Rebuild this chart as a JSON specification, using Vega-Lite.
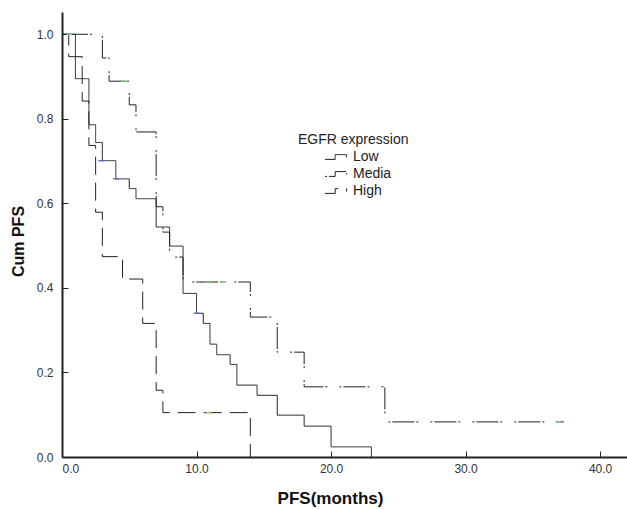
{
  "$schema": "https://vega.github.io/schema/vega-lite/v6.json",
  "width": 565,
  "height": 445,
  "autosize": {"type": "none"},
  "padding": {"left": 62, "top": 12, "right": 0, "bottom": 52},
  "background": "white",
  "config": {
    "view": {"stroke": null},
    "font": "Liberation Sans",
    "axis": {
      "grid": false,
      "domainColor": "#222",
      "domainWidth": 2,
      "tickColor": "#222",
      "tickWidth": 1,
      "tickSize": -6,
      "labelColor": "#333",
      "labelFontSize": 12,
      "labelFont": "Liberation Sans",
      "titleFont": "Liberation Sans",
      "titleColor": "#111",
      "titleFontWeight": "bold"
    }
  },
  "datasets": {
    "curves": [
      {"group": "Low", "time": 0, "survival": 1.0},
      {"group": "Low", "time": 1, "survival": 0.895},
      {"group": "Low", "time": 2, "survival": 0.786},
      {"group": "Low", "time": 2.5, "survival": 0.744},
      {"group": "Low", "time": 3, "survival": 0.701},
      {"group": "Low", "time": 4, "survival": 0.658},
      {"group": "Low", "time": 5, "survival": 0.635},
      {"group": "Low", "time": 5.5, "survival": 0.611},
      {"group": "Low", "time": 7, "survival": 0.544},
      {"group": "Low", "time": 8, "survival": 0.499},
      {"group": "Low", "time": 9, "survival": 0.387},
      {"group": "Low", "time": 10, "survival": 0.340},
      {"group": "Low", "time": 10.5, "survival": 0.316},
      {"group": "Low", "time": 11, "survival": 0.267},
      {"group": "Low", "time": 11.5, "survival": 0.242},
      {"group": "Low", "time": 12.5, "survival": 0.219},
      {"group": "Low", "time": 13, "survival": 0.170},
      {"group": "Low", "time": 14.5, "survival": 0.146},
      {"group": "Low", "time": 16, "survival": 0.099},
      {"group": "Low", "time": 18, "survival": 0.073},
      {"group": "Low", "time": 20, "survival": 0.024},
      {"group": "Low", "time": 23, "survival": 0.0},
      {"group": "Media", "time": 0, "survival": 1.0},
      {"group": "Media", "time": 3, "survival": 0.944},
      {"group": "Media", "time": 3.5, "survival": 0.889},
      {"group": "Media", "time": 5, "survival": 0.833},
      {"group": "Media", "time": 5.5, "survival": 0.769},
      {"group": "Media", "time": 7, "survival": 0.592},
      {"group": "Media", "time": 7.5, "survival": 0.532},
      {"group": "Media", "time": 8, "survival": 0.473},
      {"group": "Media", "time": 9, "survival": 0.414},
      {"group": "Media", "time": 14, "survival": 0.331},
      {"group": "Media", "time": 16, "survival": 0.248},
      {"group": "Media", "time": 18, "survival": 0.166},
      {"group": "Media", "time": 24, "survival": 0.083},
      {"group": "Media", "time": 37.3, "survival": 0.083},
      {"group": "High", "time": 0, "survival": 1.0},
      {"group": "High", "time": 0.5, "survival": 0.947},
      {"group": "High", "time": 1.5, "survival": 0.842},
      {"group": "High", "time": 2, "survival": 0.737},
      {"group": "High", "time": 2.5, "survival": 0.579},
      {"group": "High", "time": 3, "survival": 0.474},
      {"group": "High", "time": 4.5, "survival": 0.421},
      {"group": "High", "time": 6, "survival": 0.316},
      {"group": "High", "time": 7, "survival": 0.158},
      {"group": "High", "time": 7.5, "survival": 0.105},
      {"group": "High", "time": 14, "survival": 0.0}
    ],
    "censored": [
      {"arm": "Media", "time": 0.55, "survival": 1.0},
      {"arm": "Media", "time": 4.6, "survival": 0.889},
      {"arm": "Media", "time": 10.9, "survival": 0.414},
      {"arm": "Media", "time": 12.0, "survival": 0.414},
      {"arm": "Media", "time": 36.9, "survival": 0.083},
      {"arm": "Low", "time": 2.9, "survival": 0.701},
      {"arm": "Low", "time": 4.0, "survival": 0.658},
      {"arm": "Low", "time": 10.0, "survival": 0.340},
      {"arm": "High", "time": 10.9, "survival": 0.105}
    ]
  },
  "layer": [
    {
      "data": {"name": "curves"},
      "mark": {"type": "line", "interpolate": "step-after", "strokeWidth": 1, "color": "#222"},
      "encoding": {
        "x": {
          "field": "time",
          "type": "quantitative",
          "scale": {"domain": [0, 42], "nice": false, "zero": false},
          "axis": {
            "title": "PFS(months)",
            "titleFontSize": 17,
            "titleX": 268,
            "titlePadding": 16,
            "values": [0, 10, 20, 30, 40],
            "format": ".1f",
            "labelPadding": 12
          }
        },
        "y": {
          "field": "survival",
          "type": "quantitative",
          "scale": {"domain": [0, 1.0527], "nice": false, "zero": false},
          "axis": {
            "title": "Cum PFS",
            "titleFontSize": 16,
            "titleY": 229,
            "titlePadding": 10,
            "values": [0, 0.2, 0.4, 0.6, 0.8, 1.0],
            "format": ".1f",
            "labelPadding": 15
          }
        },
        "strokeDash": {
          "field": "group",
          "type": "nominal",
          "scale": {"domain": ["Low", "Media", "High"], "range": [[1, 0], [2, 2, 22, 2, 2, 12], [18, 8]]},
          "legend": {
            "orient": "none",
            "legendX": 236,
            "legendY": 121,
            "title": "EGFR expression",
            "titleFontSize": 14,
            "titleFontWeight": "normal",
            "titleColor": "#222",
            "titlePadding": 3,
            "labelFontSize": 14,
            "labelColor": "#222",
            "symbolType": "M-2,0.4H-0.3V-0.4H1.6V0.1",
            "symbolSize": 144,
            "symbolStrokeColor": "#222",
            "symbolFillColor": "transparent",
            "symbolStrokeWidth": 1,
            "symbolOffset": 32,
            "labelOffset": 9,
            "rowPadding": 3,
            "padding": 0,
            "encode": {"symbols": {"update": {"stroke": {"value": "#222"}, "fill": {"value": "transparent"}}}}
          }
        }
      }
    },
    {
      "data": {"name": "censored"},
      "mark": {"type": "point", "shape": "M-1,0L1,0", "size": 30, "strokeWidth": 1.5, "filled": false, "opacity": 1},
      "encoding": {
        "x": {"field": "time", "type": "quantitative"},
        "y": {"field": "survival", "type": "quantitative"},
        "color": {
          "field": "arm",
          "type": "nominal",
          "scale": {"domain": ["Media", "Low", "High"], "range": ["#6cc87a", "#5570c8", "#b8ae5e"]},
          "legend": null
        }
      }
    }
  ]
}
